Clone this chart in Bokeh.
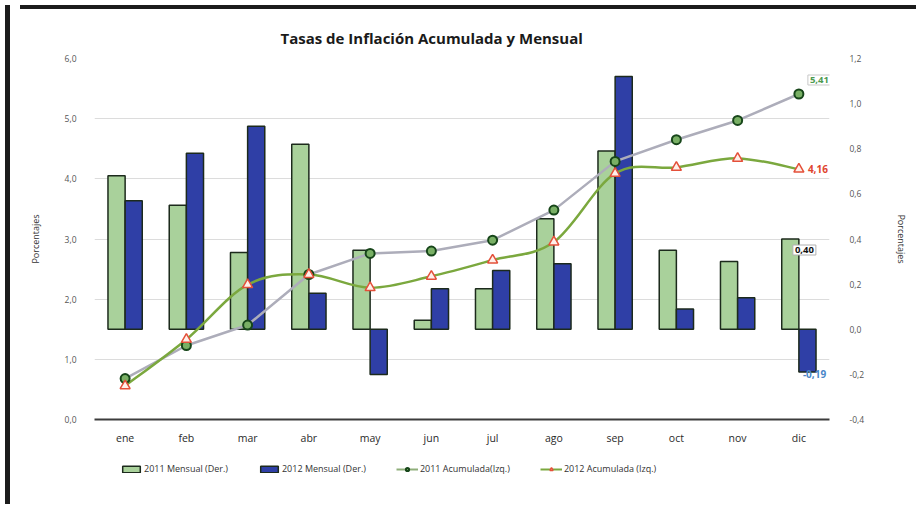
import numpy as np
from bokeh.plotting import figure
from bokeh.layouts import row, column
from bokeh.models import (Range1d, LinearAxis, FixedTicker, Legend, LegendItem,
                          Label, ColumnDataSource, Title, Div)
from bokeh.embed import file_html
from bokeh.resources import INLINE

# ---------------- data ----------------
meses = ["ene", "feb", "mar", "abr", "may", "jun", "jul", "ago", "sep", "oct", "nov", "dic"]
mensual_2011 = [0.68, 0.55, 0.34, 0.82, 0.35, 0.04, 0.18, 0.49, 0.79, 0.35, 0.30, 0.40]
mensual_2012 = [0.57, 0.78, 0.90, 0.16, -0.20, 0.18, 0.26, 0.29, 1.12, 0.09, 0.14, -0.19]
acum_2011 = [0.68, 1.23, 1.57, 2.41, 2.76, 2.80, 2.98, 3.48, 4.29, 4.65, 4.97, 5.41]
acum_2012 = [0.56, 1.33, 2.24, 2.41, 2.19, 2.38, 2.65, 2.95, 4.09, 4.19, 4.34, 4.16]

left_ticks = [0.0, 1.0, 2.0, 3.0, 4.0, 5.0, 6.0]
left_tick_labels = ["0,0", "1,0", "2,0", "3,0", "4,0", "5,0", "6,0"]
right_ticks = [-0.4, -0.2, 0.0, 0.2, 0.4, 0.6, 0.8, 1.0, 1.2]
right_tick_labels = ["-0,4", "-0,2", "0,0", "0,2", "0,4", "0,6", "0,8", "1,0", "1,2"]

titulo = "Tasas de Inflación Acumulada y Mensual"
eje_titulo = "Porcentajes"
nombres = ["2011 Mensual (Der.)", "2012 Mensual (Der.)", "2011 Acumulada(Izq.)", "2012 Acumulada (Izq.)"]
etiquetas = {"a2011": "5,41", "a2012": "4,16", "m2011": "0,40", "m2012": "-0,19"}

# ---------------- styles ----------------
FONT = "Open Sans"
GREEN_BAR = "#a9d19b"
BLUE_BAR = "#2f3fa6"
BAR_LINE = "#1c2a1c"
GREY_LINE = "#adadba"
GREEN_LINE = "#7ba83e"
CIRCLE_FILL = "#79b065"
CIRCLE_LINE = "#17461a"
TRI_FILL = "#fff0ea"
TRI_LINE = "#e4503a"
FRAME = "#1c1c1c"

bar_style = dict(line_color=BAR_LINE, line_width=1.5)
circ_style = dict(marker="circle", size=9, fill_color=CIRCLE_FILL, line_color=CIRCLE_LINE, line_width=2)
tri_style = dict(marker="triangle", size=10, fill_color=TRI_FILL, line_color=TRI_LINE, line_width=1.5)

x = np.arange(len(meses))

p = figure(width=896, height=441, output_backend="svg", toolbar_location=None,
           x_range=Range1d(-0.5, len(meses) - 0.5), y_range=Range1d(0, 6),
           min_border_left=79, min_border_right=76, min_border_top=44, min_border_bottom=36)
p.extra_y_ranges = {"der": Range1d(-0.4, 1.2)}
p.outline_line_color = None
p.background_fill_color = "white"
p.border_fill_color = "white"

p.title = Title(text=titulo, text_font=FONT, text_font_size="15px", text_font_style="bold",
                text_color="#1a1a1a", align="left", offset=186, standoff=22)

# grid
p.xgrid.grid_line_color = None
p.ygrid.grid_line_color = "#dcdcdc"
p.ygrid.grid_line_width = 1
p.ygrid.ticker = FixedTicker(ticks=left_ticks)

# x axis
p.xaxis.ticker = FixedTicker(ticks=list(x))
p.xaxis.major_label_overrides = {int(i): m for i, m in zip(x, meses)}
p.xaxis.axis_line_color = "#3c3c3c"
p.xaxis.axis_line_width = 2
p.xaxis.major_tick_line_color = None
p.xaxis.minor_tick_line_color = None
p.xaxis.major_label_text_font = FONT
p.xaxis.major_label_text_font_size = "10.5px"
p.xaxis.major_label_text_color = "#2a2a2a"
p.xaxis.major_label_standoff = 5

# left axis
p.yaxis.ticker = FixedTicker(ticks=left_ticks)
p.yaxis.major_label_overrides = dict(zip(left_ticks, left_tick_labels))
p.yaxis.axis_line_color = None
p.yaxis.major_tick_line_color = None
p.yaxis.minor_tick_line_color = None
p.yaxis.major_label_text_font = FONT
p.yaxis.major_label_text_font_size = "8.5px"
p.yaxis.major_label_text_color = "#555555"
p.yaxis.major_label_standoff = 12
p.yaxis.axis_label = eje_titulo
p.yaxis.axis_label_text_font = FONT
p.yaxis.axis_label_text_font_size = "9px"
p.yaxis.axis_label_text_font_style = "normal"
p.yaxis.axis_label_text_color = "#333333"
p.yaxis.axis_label_standoff = 20

# right axis
ax_r = LinearAxis(y_range_name="der", ticker=FixedTicker(ticks=right_ticks))
ax_r.major_label_overrides = dict(zip(right_ticks, right_tick_labels))
ax_r.axis_line_color = None
ax_r.major_tick_line_color = None
ax_r.minor_tick_line_color = None
ax_r.major_label_text_font = FONT
ax_r.major_label_text_font_size = "8.5px"
ax_r.major_label_text_color = "#555555"
ax_r.major_label_standoff = 14
ax_r.axis_label = eje_titulo
ax_r.axis_label_text_font = FONT
ax_r.axis_label_text_font_size = "9px"
ax_r.axis_label_text_font_style = "normal"
ax_r.axis_label_text_color = "#333333"
ax_r.axis_label_standoff = 28
p.add_layout(ax_r, "right")

# bars (right axis)
src = ColumnDataSource(dict(x=x, a11=acum_2011, a12=acum_2012))
BW = 0.28
p.vbar(x=x - 0.14, top=mensual_2011, bottom=0, width=BW, y_range_name="der",
       fill_color=GREEN_BAR, **bar_style)
p.vbar(x=x + 0.14, top=mensual_2012, bottom=0, width=BW, y_range_name="der",
       fill_color=BLUE_BAR, **bar_style)

# 2011 cumulative: straight grey line
p.line("x", "a11", source=src, line_color=GREY_LINE, line_width=2.5)

# 2012 cumulative: smoothed green line (Catmull-Rom -> cubic bezier from data points)
ya = np.array(acum_2012, dtype=float)
xa = x.astype(float)
n = len(xa)
xp = np.concatenate([[xa[0]], xa, [xa[-1]]])
yp = np.concatenate([[ya[0]], ya, [ya[-1]]])
bx0, by0, bx1, by1 = xa[:-1], ya[:-1], xa[1:], ya[1:]
cx0 = xp[1:n] + (xp[2:n + 1] - xp[0:n - 1]) / 6.0
cy0 = yp[1:n] + (yp[2:n + 1] - yp[0:n - 1]) / 6.0
cx1 = xp[2:n + 1] - (xp[3:n + 2] - xp[1:n]) / 6.0
cy1 = yp[2:n + 1] - (yp[3:n + 2] - yp[1:n]) / 6.0
p.bezier(x0=bx0, y0=by0, x1=bx1, y1=by1, cx0=cx0, cy0=cy0, cx1=cx1, cy1=cy1,
         line_color=GREEN_LINE, line_width=2.5)

# markers
p.scatter("x", "a11", source=src, **circ_style)
p.scatter("x", "a12", source=src, **tri_style)

# data labels
last = len(meses) - 1
p.add_layout(Label(x=last, y=acum_2011[-1], text=etiquetas["a2011"], x_offset=9, y_offset=9,
                   text_font=FONT, text_font_size="9.5px", text_font_style="bold",
                   text_color="#4d9a50", text_baseline="bottom",
                   border_line_color="#c8c8c8", background_fill_color="white",
                   padding=2))
p.add_layout(Label(x=last, y=acum_2012[-1], text=etiquetas["a2012"], x_offset=9, y_offset=0,
                   text_font=FONT, text_font_size="10px", text_font_style="bold",
                   text_color="#e0452f", text_baseline="middle"))
p.add_layout(Label(x=last, y=mensual_2011[-1], y_range_name="der", text=etiquetas["m2011"],
                   x_offset=-6, y_offset=-6, text_font=FONT, text_font_size="9.5px",
                   text_font_style="bold", text_color="#111111", text_baseline="top",
                   border_line_color="#b0b0b0", background_fill_color="white", padding=2))
p.add_layout(Label(x=last, y=mensual_2012[-1], y_range_name="der", text=etiquetas["m2012"],
                   x_offset=4, y_offset=-2, text_font=FONT, text_font_size="10px",
                   text_font_style="bold", text_color="#4a86c8", text_baseline="middle"))

# ---------------- legend strip (separate small figure with proxy glyphs, no visible data) ----------------
pl = figure(width=896, height=40, output_backend="svg", toolbar_location=None,
            x_range=Range1d(0, 1), y_range=Range1d(0, 1), min_border=0)
pl.axis.visible = False
pl.grid.visible = False
pl.outline_line_color = None
pl.border_fill_color = "white"
NA = [np.nan]
lg_b11 = pl.vbar(x=NA, top=NA, width=0.1, fill_color=GREEN_BAR, **bar_style)
lg_b12 = pl.vbar(x=NA, top=NA, width=0.1, fill_color=BLUE_BAR, **bar_style)
lg_l11 = pl.line(x=NA, y=NA, line_color="#8fae7a", line_width=2)
lg_c11 = pl.scatter(x=NA, y=NA, **dict(circ_style, size=7))
lg_l12 = pl.line(x=NA, y=NA, line_color=GREEN_LINE, line_width=2)
lg_t12 = pl.scatter(x=NA, y=NA, **dict(tri_style, size=8))

legend = Legend(items=[
    LegendItem(label=nombres[0], renderers=[lg_b11]),
    LegendItem(label=nombres[1], renderers=[lg_b12]),
    LegendItem(label=nombres[2], renderers=[lg_l11, lg_c11]),
    LegendItem(label=nombres[3], renderers=[lg_l12, lg_t12]),
], orientation="horizontal", location=(26, 20), border_line_color=None,
    background_fill_alpha=0, label_text_font=FONT, label_text_font_size="9px",
    label_text_color="#333333", glyph_width=22, glyph_height=8, spacing=30,
    padding=0, margin=0, label_standoff=2)
pl.add_layout(legend, "center")

bar_left = Div(width=5, height=499, styles={"background-color": FRAME})
bar_top = Div(width=896, height=4, styles={"background-color": FRAME})
layout = row(bar_left, column(bar_top, p, pl, spacing=0), spacing=0)

open("out.html", "w").write(file_html(layout, INLINE))
